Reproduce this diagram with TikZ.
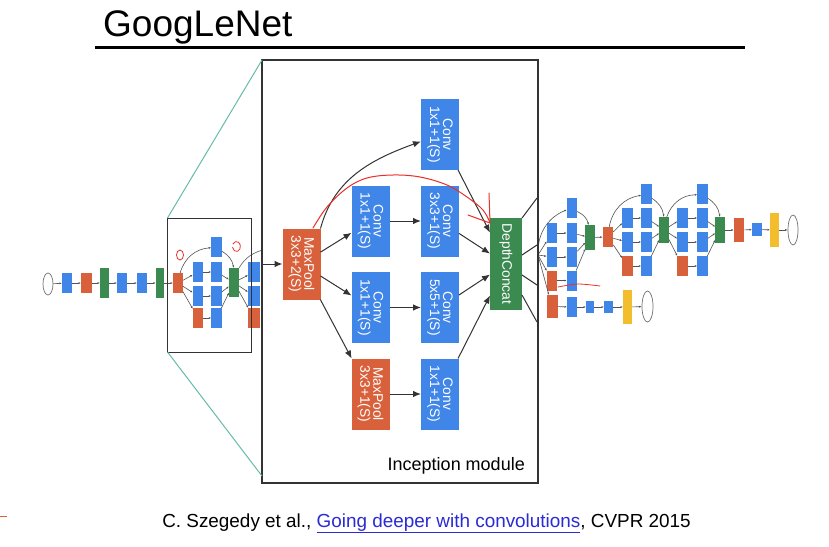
\documentclass[tikz,border=0pt]{standalone}
\usepackage{fontspec}
\setmainfont{Liberation Sans}
\usetikzlibrary{arrows.meta,calc,shapes.geometric}
\definecolor{gblue}{HTML}{3F86E8}
\definecolor{gred}{HTML}{D8613C}
\definecolor{ggreen}{HTML}{3B8A50}
\definecolor{gyellow}{HTML}{F2BE2E}
\definecolor{teal1}{HTML}{66BBAA}
\definecolor{ink}{HTML}{333333}
\definecolor{pen}{HTML}{E8302A}
\definecolor{linkblue}{HTML}{2A2AD6}
\newcommand{\mkincep}[7]{%
 \node[sb] (#1t) at (#3,#4) {};
 \node[sb] (#1a1) at (#2,#5) {};
 \node[sb] (#1a2) at (#3,#5) {};
 \node[sb] (#1b1) at (#2,#6) {};
 \node[sb] (#1b2) at (#3,#6) {};
 \node[so] (#1c1) at (#2,#7) {};
 \node[sb] (#1c2) at (#3,#7) {};}
\newcommand{\mkincedges}[3]{%
 \draw[sa] (#2) to[bend left=35] (#1t);
 \draw[sa] (#2) -- (#1a1); \draw[sa] (#2) -- (#1b1); \draw[sa] (#2) -- (#1c1);
 \draw[sa] (#1a1) -- (#1a2); \draw[sa] (#1b1) -- (#1b2); \draw[sa] (#1c1) -- (#1c2);
 \draw[sa] (#1t) to[bend left=25] (#3);
 \draw[sa] (#1a2) -- (#3); \draw[sa] (#1b2) -- (#3); \draw[sa] (#1c2) -- (#3);}
\begin{document}
\begin{tikzpicture}[x=1pt,y=-1pt,
 box/.style={inner sep=0, outer sep=0, draw=none},
 sb/.style={box, fill=gblue, minimum width=10.5, minimum height=20},
 so/.style={box, fill=gred, minimum width=10.5, minimum height=20},
 sg/.style={box, fill=ggreen, minimum width=9.5, minimum height=26},
 sy/.style={box, fill=gyellow, minimum width=9, minimum height=34},
 se/.style={ellipse, inner sep=0, draw=ink!70, fill=white, line width=0.7, minimum width=10, minimum height=22},
 sa/.style={-{Latex[length=2.5,width=2]}, draw=ink!85, line width=0.6},
 bb/.style={box, fill=gblue, minimum width=38, minimum height=71},
 bo/.style={box, fill=gred, minimum width=38, minimum height=71},
 bg/.style={box, fill=ggreen, minimum width=32, minimum height=92},
 lbl/.style={rotate=-90, text=white, align=center, font=\fontsize{13.8}{13}\selectfont, inner sep=0},
 ba/.style={-{Latex[length=8,width=6.5]}, draw=ink, line width=1},
 pn/.style={pen, line width=1, line cap=round, line join=round}]
\useasboundingbox (0,0) rectangle (829,546);
\fill[white] (0,0) rectangle (829,546);
% title
\node[anchor=base west, inner sep=0, font=\fontsize{37}{40}\selectfont] (title) at (103,36) {GoogLeNet};
\draw[line width=3] (95,47) -- (745,47);
% left chain
\node[se] (L0) at (48,284) {};
\node[sb, minimum width=10] (L1) at (67,283) {};
\node[so, minimum width=11] (L2) at (86.5,283) {};
\node[sg, minimum height=30, minimum width=9] (L3) at (104.5,283) {};
\node[sb, minimum width=10] (L4) at (122,283) {};
\node[sb, minimum width=10] (L5) at (142,283) {};
\node[sg, minimum height=30, minimum width=8.5] (L6) at (160,283) {};
\node[so, minimum width=10] (L7) at (178,283) {};
\foreach \a/\b in {L0/L1,L1/L2,L2/L3,L3/L4,L4/L5,L5/L6,L6/L7} \draw[sa] (\a) -- (\b);
% small inception
\mkincep{S}{198}{216.5}{247}{272}{296}{318}
\node[sg, minimum height=29, minimum width=10] (SD) at (234,282.5) {};
\mkincedges{S}{L7}{SD}
\node[sb, minimum width=12] (N1) at (254,272) {};
\node[sb, minimum width=12] (N2) at (254,296) {};
\node[so, minimum width=12] (N3) at (254,318) {};
\draw[sa] (SD) -- (N1); \draw[sa] (SD) -- (N2); \draw[sa] (SD) -- (N3);
\coordinate (N0) at (266,249);
\draw[draw=ink!70, line width=0.7] (SD.north east) to[out=60,in=195] (N0);
\node[box, draw=ink, line width=1, minimum width=84, minimum height=134] (smallbox) at (209.5,285) {};
% right network
\coordinate (hub) at (538,255);
\mkincep{A}{552}{572}{208}{233}{257}{280.5}
\node[sg, minimum height=25] (AD) at (590,237.5) {};
\mkincedges{A}{hub}{AD}
\node[so] (O1) at (608,237) {};
\draw[sa] (AD) -- (O1);
\mkincep{B}{627.5}{646.5}{194}{218}{242}{266}
\node[sg] (BD) at (664,230) {};
\mkincedges{B}{O1}{BD}
\mkincep{C}{682.5}{702.5}{194}{218}{242}{266}
\node[sg] (CD) at (720,230) {};
\mkincedges{C}{BD}{CD}
\node[so, minimum height=24] (O2) at (739,230) {};
\node[sb, minimum height=13, minimum width=10] (S1) at (757,229.5) {};
\node[sy] (Y1) at (774.5,230) {};
\node[se, minimum height=30] (E1) at (793,230) {};
\foreach \a/\b in {CD/O2,O2/S1,S1/Y1,Y1/E1} \draw[sa] (\a) -- (\b);
% auxiliary branch
\node[so, minimum width=11, minimum height=23] (X1) at (552,306.5) {};
\node[sb, minimum width=10] (X2) at (572,307) {};
\node[sb, minimum width=8, minimum height=12] (X3) at (590,307) {};
\node[sb, minimum width=9, minimum height=12] (X4) at (608.5,307) {};
\node[sy] (X5) at (627.5,307) {};
\node[se, minimum height=31, minimum width=11] (X6) at (647.5,306.5) {};
\draw[sa] (hub) -- (X1);
\foreach \a/\b in {X1/X2,X2/X3,X3/X4,X4/X5,X5/X6} \draw[sa] (\a) -- (\b);
% big box
\node[box, draw=ink, fill=white, line width=1.2, minimum width=276, minimum height=423] (bigbox) at (400,271.5) {};
\draw[teal1, line width=1] (smallbox.north west) -- (bigbox.north west);
\draw[teal1, line width=1] (smallbox.south west) -- ($(bigbox.south west)+(0,-7)$);
% inception module
\node[bb] (c0) at (440,134.5) {};
\node[bb] (c1a) at (370.5,221) {};
\node[bb] (c1b) at (440,221) {};
\node[bo] (mp1) at (301.5,264) {};
\node[bb] (c2a) at (370.5,307.5) {};
\node[bb] (c2b) at (440,307.5) {};
\node[bo] (mp2) at (370.5,394) {};
\node[bb] (c3b) at (440,394) {};
\node[bg] (dc) at (506,264) {};
\node[lbl] (c0t) at (c0) {Conv\\1x1+1(S)};
\node[lbl] (c1at) at (c1a) {Conv\\1x1+1(S)};
\node[lbl] (c1bt) at (c1b) {Conv\\3x3+1(S)};
\node[lbl] (mp1t) at (mp1) {MaxPool\\3x3+2(S)};
\node[lbl] (c2at) at (c2a) {Conv\\1x1+1(S)};
\node[lbl] (c2bt) at (c2b) {Conv\\5x5+1(S)};
\node[lbl] (mp2t) at (mp2) {MaxPool\\3x3+1(S)};
\node[lbl] (c3bt) at (c3b) {Conv\\1x1+1(S)};
\node[lbl] (dct) at (dc) {DepthConcat};
\coordinate (in1) at (262,264);
\draw[ba] (in1) -- (mp1);
\draw[ba] (mp1.north east) to[out=75,in=200] (c0);
\draw[ba] (mp1) -- (c1a);
\draw[ba] (mp1) -- (c2a);
\draw[ba] (mp1) -- (mp2);
\draw[ba] (c1a) -- (c1b);
\draw[ba] (c2a) -- (c2b);
\draw[ba] (mp2) -- (c3b);
\draw[ba] (c0) -- (dc);
\draw[ba] (c1b) -- (dc);
\draw[ba] (c2b) -- (dc);
\draw[ba] (c3b) -- (dc);
\coordinate (o1) at (537,198);
\coordinate (o2) at (537,245);
\coordinate (o3) at (537,285);
\coordinate (o4) at (537,322);
\draw[ink, line width=1] (dc.north east) -- (o1);
\draw[ink, line width=1] ($(dc.east)+(0,-9)$) -- (o2);
\draw[ink, line width=1] ($(dc.east)+(0,11)$) -- (o3);
\draw[ink, line width=1] ($(dc.east)+(0,31)$) -- (o4);
\node[anchor=base east, inner sep=0, font=\fontsize{18}{20}\selectfont] (imod) at (525,470) {Inception module};
% hand-drawn marks
\draw[pn] plot[smooth, tension=0.6] coordinates {(313,228) (327,207) (347,188) (367,178) (393,175) (420,177) (447,185) (467,197) (483,210) (490,223)};
\draw[pn] (489,193) -- (490,223) -- (468,215);
\draw[pn, line width=0.8] (180,255) ellipse [x radius=3.5pt, y radius=5pt];
\draw[pn, line width=0.8] (233,244) arc[start angle=150, end angle=-170, x radius=4pt, y radius=5pt];
\draw[pn, line width=0.8] plot[smooth] coordinates {(558,287) (578,284) (600,286)};
\draw[gred, line width=1] (0,516) -- (7,516);
% citation
\node[anchor=base, inner sep=0, font=\fontsize{18.9}{20}\selectfont] (cite) at (426.5,527) {C. Szegedy et al., \textcolor{linkblue}{\underline{Going deeper with convolutions}}, CVPR 2015};
\end{tikzpicture}
\end{document}
